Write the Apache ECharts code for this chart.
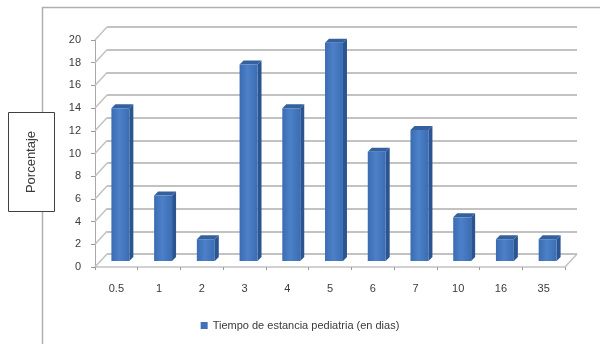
<!DOCTYPE html>
<html>
<head>
<meta charset="utf-8">
<script src="https://cdn.jsdelivr.net/npm/echarts@6/dist/echarts.min.js"></script>
<style>
  html, body { margin: 0; padding: 0; background: #ffffff; }
  #chart { width: 600px; height: 344px; }
</style>
</head>
<body>
<div id="chart"></div>
<script>
// Length of stay categories (days)
const categories = ['0.5', '1', '2', '3', '4', '5', '6', '7', '10', '16', '35'];
// Percentage of patients per length of stay
const percentages = [13.46, 5.77, 1.92, 17.31, 13.46, 19.23, 9.62, 11.54, 3.85, 1.92, 1.92];
// Value-axis ticks
const yTicks = [0, 2, 4, 6, 8, 10, 12, 14, 16, 18, 20];

const seriesName = 'Tiempo de estancia pediatria (en dias)';
const axisTitle = 'Porcentaje';

const FONT = 'Liberation Sans, Arial, sans-serif';
const GRID_COLOR = '#c2c2c2';
const TEXT_COLOR = '#3a3a3a';

// depth of the 3D box (back wall offset) and of each bar
const DEPTH_X = 12, DEPTH_Y = -13;
const BAR_OX = 4, BAR_OY = -6, BAR_DX = 4, BAR_DY = -4;

const chart = echarts.init(document.getElementById('chart'), null, { renderer: 'canvas' });

function renderBar(params, api) {
  const cat = api.value(0);
  const v = api.value(1);
  const base = api.coord([cat, 0]);
  const top = api.coord([cat, v]);
  const bw = api.size([1, 0])[0] * 0.42;
  const x0 = base[0] - bw / 2 + BAR_OX;
  const x1 = x0 + bw;
  const yb = base[1] + BAR_OY;
  const yt = top[1] + BAR_OY;
  return {
    type: 'group',
    children: [
      {
        type: 'polygon',
        shape: { points: [[x1, yb], [x1 + BAR_DX, yb + BAR_DY], [x1 + BAR_DX, yt + BAR_DY], [x1, yt]] },
        style: { fill: '#2b5590' }
      },
      {
        type: 'polygon',
        shape: { points: [[x0, yt], [x0 + BAR_DX, yt + BAR_DY], [x1 + BAR_DX, yt + BAR_DY], [x1, yt]] },
        style: { fill: '#34609e' }
      },
      {
        type: 'rect',
        shape: { x: x0, y: yt, width: bw, height: yb - yt },
        style: {
          fill: new echarts.graphic.LinearGradient(0, 0, 1, 0, [
            { offset: 0, color: '#3a6cb2' },
            { offset: 0.45, color: '#4c80c8' },
            { offset: 1, color: '#3b6db3' }
          ])
        }
      }
    ]
  };
}

// short slanted lines joining the value axis to the back wall
function renderStub(params, api) {
  const p = api.coord([0, api.value(1)]);
  const x = params.coordSys.x;
  return {
    type: 'line',
    shape: { x1: x, y1: p[1], x2: x + DEPTH_X, y2: p[1] + DEPTH_Y },
    style: { stroke: GRID_COLOR, lineWidth: 1.5 }
  };
}

// right edge of the floor
function renderFloorEdge(params, api) {
  const p = api.coord([0, 0]);
  const x = params.coordSys.x + params.coordSys.width;
  return {
    type: 'line',
    shape: { x1: x, y1: p[1], x2: x + DEPTH_X, y2: p[1] + DEPTH_Y },
    style: { stroke: GRID_COLOR, lineWidth: 1.5 }
  };
}

const option = {
  animation: false,
  backgroundColor: '#ffffff',
  textStyle: { fontFamily: FONT },
  grid: [
    { left: 95, right: 35, top: 40, bottom: 77 },
    { left: 95 + DEPTH_X, right: 35 - DEPTH_X, top: 40 + DEPTH_Y, bottom: 77 - DEPTH_Y }
  ],
  xAxis: [
    {
      type: 'category',
      gridIndex: 0,
      data: categories,
      axisLine: { lineStyle: { color: GRID_COLOR, width: 1.5 } },
      axisTick: { show: true, length: 3, lineStyle: { color: '#9a9a9a' } },
      axisLabel: { color: TEXT_COLOR, fontSize: 11, margin: 16, fontFamily: FONT },
      splitLine: { show: false }
    },
    {
      type: 'category',
      gridIndex: 1,
      data: categories,
      show: false
    }
  ],
  yAxis: [
    {
      type: 'value',
      gridIndex: 0,
      min: 0,
      max: 20,
      interval: 2,
      axisLine: { show: true, lineStyle: { color: '#a8a8a8', width: 1 } },
      axisTick: { show: true, length: 4, lineStyle: { color: '#9a9a9a' } },
      axisLabel: { color: TEXT_COLOR, fontSize: 11, margin: 14, fontFamily: FONT },
      splitLine: { show: false }
    },
    {
      type: 'value',
      gridIndex: 1,
      min: 0,
      max: 20,
      interval: 2,
      axisLine: { show: false },
      axisTick: { show: false },
      axisLabel: { show: false },
      splitLine: { show: true, lineStyle: { color: GRID_COLOR, width: 2 } }
    }
  ],
  legend: {
    data: [{ name: seriesName, icon: 'rect' }],
    left: 'center',
    top: 315,
    itemWidth: 7,
    itemHeight: 7,
    itemGap: 4,
    textStyle: { color: TEXT_COLOR, fontSize: 11, fontFamily: FONT }
  },
  series: [
    {
      type: 'custom',
      name: 'stubs',
      xAxisIndex: 0,
      yAxisIndex: 0,
      renderItem: renderStub,
      data: yTicks.map(v => [0, v]),
      silent: true,
      z: 1
    },
    {
      type: 'custom',
      name: 'floor',
      xAxisIndex: 0,
      yAxisIndex: 0,
      renderItem: renderFloorEdge,
      data: [[0, 0]],
      silent: true,
      z: 1
    },
    {
      type: 'custom',
      name: seriesName,
      xAxisIndex: 0,
      yAxisIndex: 0,
      renderItem: renderBar,
      itemStyle: { color: '#3f72b8' },
      data: percentages.map((v, i) => [i, v]),
      z: 3
    }
  ],
  graphic: [
    {
      type: 'rect',
      shape: { x: 42.5, y: 7.5, width: 640, height: 400 },
      style: { fill: 'none', stroke: '#b0b0b0', lineWidth: 1.5 },
      silent: true,
      z: -1
    },
    {
      type: 'rect',
      shape: { x: 8.5, y: 112.5, width: 46, height: 99 },
      style: { fill: '#ffffff', stroke: '#404040', lineWidth: 1 },
      z: 10
    },
    {
      type: 'text',
      x: 31,
      y: 162,
      rotation: Math.PI / 2,
      style: {
        text: axisTitle,
        fill: TEXT_COLOR,
        font: '13px ' + FONT,
        align: 'center',
        verticalAlign: 'middle'
      },
      z: 11
    }
  ]
};

chart.setOption(option);
</script>
</body>
</html>
